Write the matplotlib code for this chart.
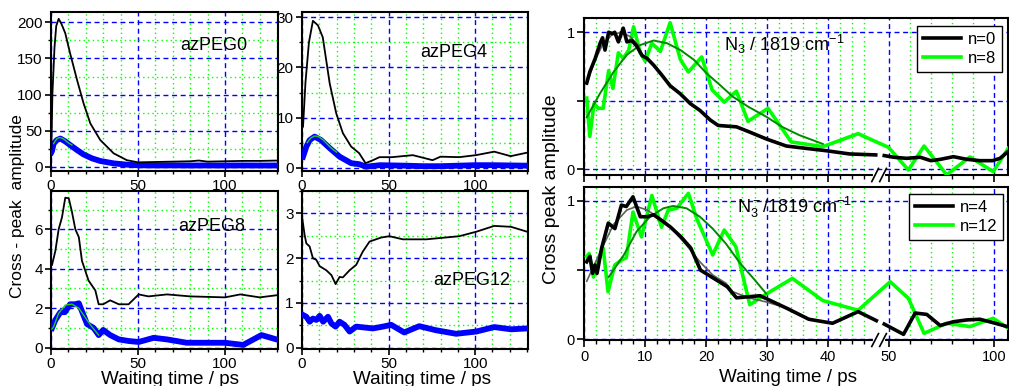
import numpy as np
import matplotlib
matplotlib.use("Agg")
import matplotlib.pyplot as plt
from matplotlib.ticker import FixedLocator, MultipleLocator

plt.rcParams['font.family'] = ['Liberation Sans', 'DejaVu Sans']
plt.rcParams['mathtext.fontset'] = 'custom'
plt.rcParams['mathtext.rm'] = 'Liberation Sans'
plt.rcParams['mathtext.it'] = 'Liberation Sans'

# ---------------- left panels data ----------------
peg0_black_t = [0.2, 0.8, 2, 3, 4.4, 6, 8.2, 11, 15, 18.7, 22.6, 28.3, 36, 43.6, 50, 60, 70, 80, 85, 90, 100, 110, 120, 130]
peg0_black_v = [25, 100, 165, 195, 205, 198, 185, 157, 120, 88, 60, 37, 18.5, 9, 6, 6.5, 7, 7.5, 8.5, 7, 7.5, 8, 8, 8.5]
peg0_blue_t = [0.2, 0.6, 1.5, 3.4, 5.4, 8.2, 11, 15, 18.7, 23.5, 28.3, 36, 43.6, 50, 60, 70, 80, 90, 100, 110, 120, 130]
peg0_blue_v = [20, 22, 32, 37, 39, 35, 30, 23, 17, 11.6, 7.9, 4.6, 2.8, 1.9, 1.7, 1.8, 1.6, 1.7, 1.6, 1.7, 1.6, 1.6]
peg0_fit_t = [1.5, 2.5, 3.5, 5, 6.5, 8, 10, 12]
peg0_fit_v = [32, 36, 39, 40.5, 39.5, 37, 33, 30]

peg4_black_t = [0.6, 2, 4, 6.3, 9.2, 12, 16, 19.8, 23.6, 28.4, 33, 36.7, 41, 44.7, 52, 64, 75.4, 80, 90.8, 100.4, 111, 120.5, 130]
peg4_black_v = [8.2, 17, 25, 29.3, 28.4, 26, 16.8, 10.8, 6.9, 4.2, 2.9, 0.9, 1.5, 2.1, 2.1, 2.5, 1.5, 2.2, 2.1, 2.5, 3.2, 2.3, 3.0]
peg4_blue_t = [0.6, 2.5, 4.4, 7.3, 11, 16, 21.7, 28.4, 33, 37, 45, 60, 70, 80, 90, 100, 110, 120, 130]
peg4_blue_v = [2.2, 4.2, 5.5, 6.2, 5.5, 3.9, 2.2, 0.9, 0.7, 0.2, 0.5, 0.4, 0.3, 0.3, 0.4, 0.5, 0.5, 0.45, 0.4]
peg4_fit_t = [3, 5, 7, 8.5, 10, 12, 14, 16, 18, 20]
peg4_fit_v = [5.0, 5.9, 6.3, 6.3, 6.1, 5.6, 4.9, 4.2, 3.6, 3.1]

peg8_black_t = [0.6, 2.5, 4.4, 6.3, 8.2, 10.2, 12, 14, 16, 17.8, 21.6, 25.5, 27.4, 30, 34, 39, 44.6, 50.4, 56, 66.7, 80, 100, 108.8, 120, 130.8]
peg8_black_v = [4.2, 4.9, 6.0, 6.6, 7.6, 7.57, 6.9, 6.0, 5.6, 4.4, 3.4, 2.9, 2.2, 2.2, 2.4, 2.2, 2.2, 2.7, 2.6, 2.7, 2.6, 2.55, 2.7, 2.55, 2.67]
peg8_blue_t = [0.6, 2.5, 5.4, 8, 11, 14, 16, 18, 20.7, 24.5, 27.4, 30, 34, 39, 44.6, 50.4, 59, 66.7, 78, 100, 110.5, 121, 130.8]
peg8_blue_v = [1.0, 1.4, 1.8, 1.8, 2.2, 2.2, 2.25, 1.8, 1.2, 1.0, 0.64, 0.9, 0.64, 0.42, 0.34, 0.29, 0.5, 0.42, 0.25, 0.25, 0.14, 0.64, 0.39]
peg8_fit_t = [0.6, 1.5, 4.4, 8.2, 12, 16, 20, 23.5, 27.4]
peg8_fit_v = [0.95, 1.06, 1.74, 2.16, 2.21, 2.0, 1.49, 1.06, 0.64]

peg12_black_t = [0.3, 1.5, 2.5, 4.4, 6.3, 8.3, 10.2, 14, 17, 19.4, 21.7, 23.6, 27.5, 31.3, 35, 39, 45.7, 50.5, 58.3, 71.7, 90.8, 100.6, 111, 120.7, 130]
peg12_black_v = [2.85, 2.52, 2.33, 2.26, 2.0, 1.96, 1.82, 1.73, 1.62, 1.42, 1.58, 1.57, 1.73, 1.85, 2.14, 2.37, 2.46, 2.49, 2.42, 2.42, 2.49, 2.59, 2.72, 2.7, 2.59]
peg12_blue_t = [0.6, 2.5, 4.4, 6.3, 8.3, 10.2, 12.2, 15, 17, 19.4, 21.7, 24.5, 27.5, 31.3, 41, 46.7, 51.5, 59, 67.7, 77.3, 89, 100.6, 111, 120.7, 130]
peg12_blue_v = [0.73, 0.69, 0.58, 0.65, 0.62, 0.71, 0.58, 0.69, 0.54, 0.47, 0.58, 0.51, 0.36, 0.47, 0.43, 0.47, 0.51, 0.34, 0.48, 0.39, 0.31, 0.36, 0.46, 0.41, 0.43]

# ---------------- right panels data ----------------
n0_t = [0.4, 0.9, 1.8, 2.6, 3.0, 3.4, 4.0, 4.6, 5.0, 5.6, 6.4, 7.0, 7.8, 8.6, 9.5, 10.3, 11.4, 12.7, 14.1, 15.8, 17.4, 19.0, 20.7, 22.0, 25.0, 27.0, 30.0, 33.2, 36.0, 39.7, 43.6, 47.9,
        48.6, 49.3, 52.4, 58.6, 65.0, 70.0, 74.6, 80.7, 87.0, 93.0, 99.2, 102.7, 106.6]
n0_v = [0.63, 0.71, 0.81, 0.92, 0.96, 0.87, 1.00, 0.99, 1.00, 0.93, 1.03, 0.93, 0.94, 0.90, 0.83, 0.81, 0.76, 0.69, 0.61, 0.55, 0.48, 0.43, 0.36, 0.32, 0.31, 0.275, 0.22, 0.17, 0.155, 0.136, 0.112, 0.105,
        np.nan, 0.10, 0.088, 0.080, 0.088, 0.063, 0.073, 0.092, 0.073, 0.063, 0.063, 0.080, 0.13]
n0_fit_t = [0.4, 1.5, 3, 4.5, 6, 7.5, 9]
n0_fit_v = [0.62, 0.77, 0.91, 0.98, 1.0, 0.97, 0.9]

n8_t = [0.4, 0.9, 1.6, 2.3, 3.1, 4.0, 4.7, 5.6, 6.4, 7.3, 8.1, 9.2, 10.0, 11.1, 12.5, 14.1, 15.8, 17.1, 19.3, 21.0, 23.0, 25.0, 26.9, 30.2, 34.0, 39.2, 45.0, 50.0, 59.4, 66.8, 77.5, 88.5, 99.5, 106.6]
n8_v = [0.52, 0.24, 0.48, 0.445, 0.445, 0.72, 0.59, 0.85, 0.81, 0.87, 1.04, 0.85, 0.79, 0.92, 0.86, 1.07, 0.80, 0.71, 0.82, 0.58, 0.49, 0.57, 0.35, 0.445, 0.20, 0.165, 0.26, 0.16, -0.005, 0.17, -0.04, 0.09, -0.017, 0.153]
n8_fit_t = [0.4, 2.6, 4.8, 7.0, 9.2, 11.4, 13.6, 15.8, 18.0, 20.1, 22.3, 24.4, 27.0, 29.9, 32.5, 35.3, 39.2]
n8_fit_v = [0.38, 0.555, 0.71, 0.836, 0.907, 0.94, 0.92, 0.87, 0.80, 0.70, 0.615, 0.53, 0.455, 0.384, 0.31, 0.25, 0.185]

n4_t = [0.39, 0.93, 1.37, 1.75, 2.1, 2.85, 3.94, 5.03, 6.1, 6.9, 8.0, 9.2, 10.3, 11.4, 13.0, 14.2, 15.9, 17.5, 19.1, 21.3, 23.5, 25.0, 28.9, 33.3, 36.9, 40.8, 45.0, 48.0,
        48.6, 49.3, 57.1, 62.6, 68.1, 74.4, 80.7, 87.0, 93.2, 99.5, 106.6]
n4_v = [0.56, 0.60, 0.477, 0.537, 0.477, 0.66, 0.84, 0.80, 0.97, 0.96, 1.03, 0.886, 0.886, 0.90, 0.85, 0.81, 0.74, 0.66, 0.50, 0.44, 0.38, 0.30, 0.315, 0.224, 0.145, 0.116, 0.20, 0.135,
        np.nan, 0.11, 0.036, 0.19, 0.18, 0.10, 0.127, 0.14, 0.145, 0.12, 0.09]
n4_fit_t = [0.4, 2.6, 4.8, 7.0, 8.6, 10.3, 12.4, 14.6, 16.8, 19.0, 21.1, 23.3, 24.4, 27.0, 29.9, 33.5]
n4_fit_v = [0.42, 0.63, 0.83, 0.935, 0.96, 0.935, 0.875, 0.79, 0.68, 0.56, 0.465, 0.405, 0.344, 0.30, 0.27, 0.224]

n12_t = [0.4, 0.8, 1.5, 2.0, 3.1, 3.9, 5.0, 6.1, 6.9, 8.0, 9.4, 11.1, 12.7, 13.8, 15.2, 17.1, 18.5, 21.1, 23.0, 24.9, 27.2, 30.0, 34.2, 39.2, 45.0, 50.8, 59.4, 66.8, 77.5, 88.5, 99.5, 106.6]
n12_v = [0.60, 0.62, 0.45, 0.525, 0.66, 0.344, 0.537, 0.573, 0.59, 0.92, 0.74, 1.04, 0.81, 0.935, 0.947, 1.055, 0.87, 0.61, 0.79, 0.67, 0.25, 0.33, 0.44, 0.28, 0.21, 0.416, 0.296, 0.043, 0.116, 0.092, 0.152, 0.08]
n12_fit_t = [4.0, 6.5, 8.6, 10.8, 13.0, 14.6, 16.8, 19.0, 21.1, 23.3, 25.6, 27.8, 29.9]
n12_fit_v = [0.45, 0.61, 0.78, 0.886, 0.947, 0.964, 0.947, 0.886, 0.80, 0.69, 0.55, 0.44, 0.33]

# ---------------- figure ----------------
W, H = 1009, 386
fig = plt.figure(figsize=(W / 100, H / 100), dpi=100)

def rect(l, r, t, b):
    return [l / W, 1 - b / H, (r - l) / W, (b - t) / H]

BLUE = '#0000ff'
LIME = '#00ff00'
DKGREEN = '#008a00'
GRID_MAJ = dict(color=BLUE, linestyle=(0, (3.6, 2.6)), linewidth=1.0)
GRID_MIN = dict(color=LIME, linestyle=(0, (1, 2.3)), linewidth=1.0)

def style_left(ax, ylim, ymaj, ymin):
    ax.set_xlim(0, 130.5)
    ax.set_ylim(*ylim)
    ax.xaxis.set_major_locator(FixedLocator([0, 50, 100]))
    ax.xaxis.set_minor_locator(MultipleLocator(10))
    ax.yaxis.set_major_locator(MultipleLocator(ymaj))
    ax.yaxis.set_minor_locator(MultipleLocator(ymin))
    ax.grid(which='major', **GRID_MAJ)
    ax.grid(which='minor', **GRID_MIN)
    ax.set_axisbelow(True)
    ax.tick_params(which='major', direction='out', length=4, width=1.2, labelsize=11, pad=2)
    ax.tick_params(which='minor', direction='out', length=2.5, width=1.0)
    for s in ax.spines.values():
        s.set_linewidth(1.5)

panels = [
    (rect(51, 278, 12.3, 170.5), (-5.3, 214), 50, 25, peg0_black_t, peg0_black_v, peg0_blue_t, peg0_blue_v, peg0_fit_t, peg0_fit_v),
    (rect(302, 528, 12.3, 170.5), (-0.56, 31.0), 10, 5, peg4_black_t, peg4_black_v, peg4_blue_t, peg4_blue_v, peg4_fit_t, peg4_fit_v),
    (rect(51, 278, 191, 349), (-0.066, 7.94), 2, 1, peg8_black_t, peg8_black_v, peg8_blue_t, peg8_blue_v, peg8_fit_t, peg8_fit_v),
    (rect(302, 528, 191, 349), (-0.03, 3.5), 1, 0.5, peg12_black_t, peg12_black_v, peg12_blue_t, peg12_blue_v, None, None),
]
for (r, ylim, ymaj, ymin, bt, bv, ut, uv, ft, fv) in panels:
    ax = fig.add_axes(r)
    style_left(ax, ylim, ymaj, ymin)
    ax.plot(ut, uv, color=BLUE, lw=4.2, solid_joinstyle='round', zorder=3)
    if ft is not None:
        ax.plot(ft, fv, color='#22cc22', lw=1.0, zorder=4)
    ax.plot(bt, bv, color='black', lw=1.3, zorder=5)

# left labels
fig.text(180 / W, 1 - 50 / H, 'azPEG0', fontsize=13, va='baseline', ha='left')
fig.text(420 / W, 1 - 57 / H, 'azPEG4', fontsize=13, va='baseline', ha='left')
fig.text(178 / W, 1 - 231 / H, 'azPEG8', fontsize=13, va='baseline', ha='left')
fig.text(433 / W, 1 - 285 / H, 'azPEG12', fontsize=13, va='baseline', ha='left')
fig.text(170 / W, 1 - 383.5 / H, 'Waiting time / ps', fontsize=13.6, va='baseline', ha='center')
fig.text(422 / W, 1 - 383.5 / H, 'Waiting time / ps', fontsize=13.6, va='baseline', ha='center')
fig.text(18 / W, 1 - 206 / H, 'Cross - peak  amplitude', fontsize=12.5, rotation=90, va='center', ha='center')

# ---------------- right panels ----------------
R = 2.12 / 6.1
def fwd(t):
    t = np.asarray(t, dtype=float)
    return np.where(t <= 50, t, 50 + (t - 50) * R)

def inv(u):
    u = np.asarray(u, dtype=float)
    return np.where(u <= 50, u, 50 + (u - 50) / R)

minor_right = [v for v in range(2, 48, 2) if v % 10 != 0] + [60, 70, 80, 90]

def style_right(ax, ylim, show_xlabels):
    ax.set_xscale('function', functions=(fwd, inv))
    ax.set_xlim(0, 106.5)
    ax.set_ylim(*ylim)
    ax.xaxis.set_major_locator(FixedLocator([0, 10, 20, 30, 40, 50, 100]))
    ax.xaxis.set_minor_locator(FixedLocator(minor_right))
    ax.yaxis.set_major_locator(FixedLocator([0, 0.5, 1]))
    ax.yaxis.set_minor_locator(FixedLocator([]))
    ax.set_yticklabels(['0', '', '1'])
    ax.set_xticklabels(['0', '10', '20', '30', '40', '50', '100'])
    ax.grid(which='major', **GRID_MAJ)
    ax.grid(which='minor', axis='x', **GRID_MIN)
    ax.set_axisbelow(True)
    ax.tick_params(which='major', direction='out', length=5, width=1.2, labelsize=10.5, pad=2)
    ax.tick_params(which='minor', direction='out', length=3, width=1.0)
    if not show_xlabels:
        ax.tick_params(axis='x', which='both', labelbottom=False)
    for s in ax.spines.values():
        s.set_linewidth(1.5)
    # axis break marks
    tr = ax.get_xaxis_transform()
    ax.plot([47.8, 49.1], [0, 0], color='white', lw=3, transform=tr, clip_on=False, zorder=6)
    for xb in (47.8, 49.1):
        ax.plot([xb - 0.55, xb + 0.55], [-0.042, 0.042], color='black', lw=1.2,
                transform=tr, clip_on=False, zorder=7)

axr1 = fig.add_axes(rect(584.3, 1008, 18.3, 175))
style_right(axr1, (-0.0416, 1.102), False)
axr1.plot(n8_t, n8_v, color=LIME, lw=2.6, zorder=3, label='n=8')
axr1.plot(n8_fit_t, n8_fit_v, color=DKGREEN, lw=1.4, zorder=4)
axr1.plot(n0_fit_t, n0_fit_v, color='#606060', lw=1.2, zorder=4)
axr1.plot(n0_t, n0_v, color='black', lw=2.6, zorder=5, label='n=0')
h, l = axr1.get_legend_handles_labels()
axr1.legend([h[1], h[0]], [l[1], l[0]], loc='upper right', bbox_to_anchor=(1002 / W, 1 - 26 / H),
            bbox_transform=fig.transFigure, borderaxespad=0, fontsize=12, frameon=True, fancybox=False,
            edgecolor='black', framealpha=1, handlelength=2.3, handletextpad=0.4, labelspacing=0.25,
            borderpad=0.35).get_frame().set_linewidth(1.0)
axr1.text(0.329, 0.79, 'N$_3$ / 1819 cm$^{-1}$', transform=axr1.transAxes, fontsize=13, va='baseline', ha='left')

axr2 = fig.add_axes(rect(584.3, 1008, 187, 340))
style_right(axr2, (-0.005, 1.101), True)
axr2.plot(n12_t, n12_v, color=LIME, lw=2.6, zorder=3, label='n=12')
axr2.plot(n12_fit_t, n12_fit_v, color=DKGREEN, lw=1.4, zorder=4)
axr2.plot(n4_fit_t, n4_fit_v, color='#606060', lw=1.2, zorder=4)
axr2.plot(n4_t, n4_v, color='black', lw=2.6, zorder=5, label='n=4')
h, l = axr2.get_legend_handles_labels()
axr2.legend([h[1], h[0]], [l[1], l[0]], loc='upper right', bbox_to_anchor=(1003 / W, 1 - 194 / H),
            bbox_transform=fig.transFigure, borderaxespad=0, fontsize=12, frameon=True, fancybox=False,
            edgecolor='black', framealpha=1, handlelength=2.3, handletextpad=0.4, labelspacing=0.25,
            borderpad=0.35).get_frame().set_linewidth(1.0)
axr2.text(0.360, 0.83, 'N$_3^-$/1819 cm$^{-1}$', transform=axr2.transAxes, fontsize=13, va='baseline', ha='left')

fig.text(788 / W, 1 - 382 / H, 'Waiting time / ps', fontsize=13.6, va='baseline', ha='center')
fig.text(551 / W, 1 - 189 / H, 'Cross peak amplitude', fontsize=14, rotation=90, va='center', ha='center')

fig.savefig('out.png', dpi=100)
